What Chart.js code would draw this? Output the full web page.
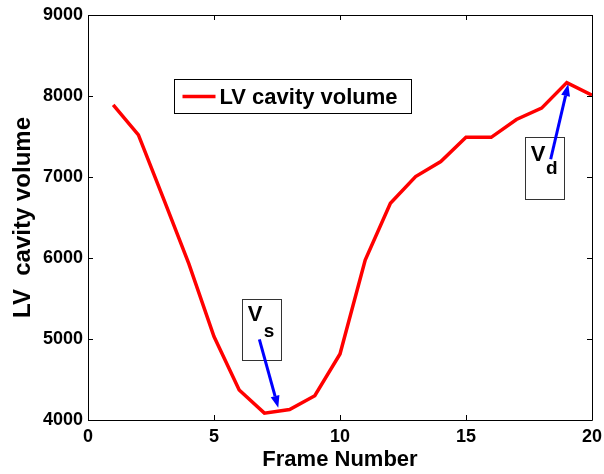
<!DOCTYPE html>
<html>
<head>
<meta charset="utf-8">
<script src="https://cdn.jsdelivr.net/npm/chart.js@4/dist/chart.umd.min.js"></script>
<style>
  html, body { margin: 0; padding: 0; background: #fff; }
  #wrap { width: 604px; height: 474px; }
</style>
</head>
<body>
<div id="wrap"><canvas id="c" width="604" height="474"></canvas></div>
<script>
// Frame index and left-ventricle cavity volume per frame
const frames = [1, 2, 3, 4, 5, 6, 7, 8, 9, 10, 11, 12, 13, 14, 15, 16, 17, 18, 19, 20];
const volume = [7890, 7520, 6730, 5930, 5030, 4370, 4085, 4130, 4300, 4815,
                5975, 6675, 7005, 7190, 7490, 7490, 7710, 7850, 8165, 8010];
const xTicks = [0, 5, 10, 15, 20];
const yTicks = [4000, 5000, 6000, 7000, 8000, 9000];
const seriesName = 'LV cavity volume';

// Callouts (data coordinates): labelled box plus arrow pointing at the curve
const callouts = [
  { main: 'V', sub: 's', box: [6.10, 7.66, 5494, 4741], mainAt: [6.63, 5296], subAt: [7.18, 5086],
    from: [6.80, 4996], to: [7.55, 4152] },
  { main: 'V', sub: 'd', box: [17.34, 18.90, 7498, 6728], mainAt: [17.86, 7272], subAt: [18.40, 7099],
    from: [18.36, 7219], to: [19.06, 8148] }
];
const legendBox = [3.42, 12.82, 8206, 7786];

const FONT = '"Liberation Sans", Arial, Helvetica, sans-serif';

const framePlugin = {
  id: 'framePlugin',
  afterDatasetsDraw(chart) {
    const ctx = chart.ctx;
    const xs = chart.scales.x, ys = chart.scales.y;
    const a = chart.chartArea;
    const X = v => xs.getPixelForValue(v);
    const Y = v => ys.getPixelForValue(v);
    ctx.save();

    // axes box with inward ticks on all sides
    ctx.strokeStyle = '#000';
    ctx.lineWidth = 1;
    ctx.beginPath();
    ctx.rect(Math.round(a.left) + 0.5, Math.round(a.top) + 0.5,
             Math.round(a.right - a.left), Math.round(a.bottom - a.top));
    const tl = 5;
    xTicks.forEach(t => {
      const px = Math.round(X(t)) + 0.5;
      ctx.moveTo(px, a.bottom); ctx.lineTo(px, a.bottom - tl);
      ctx.moveTo(px, a.top); ctx.lineTo(px, a.top + tl);
    });
    yTicks.forEach(t => {
      const py = Math.round(Y(t)) + 0.5;
      ctx.moveTo(a.left, py); ctx.lineTo(a.left + tl, py);
      ctx.moveTo(a.right, py); ctx.lineTo(a.right - tl, py);
    });
    ctx.stroke();

    // legend
    const lx0 = Math.round(X(legendBox[0])) + 0.5, lx1 = Math.round(X(legendBox[1])) + 0.5;
    const ly0 = Math.round(Y(legendBox[2])) + 0.5, ly1 = Math.round(Y(legendBox[3])) + 0.5;
    ctx.fillStyle = '#fff';
    ctx.fillRect(lx0, ly0, lx1 - lx0, ly1 - ly0);
    ctx.strokeStyle = '#000';
    ctx.lineWidth = 1;
    ctx.strokeRect(lx0, ly0, lx1 - lx0, ly1 - ly0);
    const lmid = (ly0 + ly1) / 2;
    ctx.strokeStyle = '#ff0000';
    ctx.lineWidth = 3.5;
    ctx.beginPath();
    ctx.moveTo(lx0 + 8, lmid); ctx.lineTo(lx0 + 41, lmid);
    ctx.stroke();
    ctx.fillStyle = '#000';
    ctx.font = 'bold 22px ' + FONT;
    ctx.textAlign = 'left';
    ctx.textBaseline = 'middle';
    ctx.fillText(seriesName, lx0 + 45, lmid + 1);

    // callouts
    callouts.forEach(c => {
      const bx0 = Math.round(X(c.box[0])) + 0.5, bx1 = Math.round(X(c.box[1])) + 0.5;
      const by0 = Math.round(Y(c.box[2])) + 0.5, by1 = Math.round(Y(c.box[3])) + 0.5;
      ctx.strokeStyle = '#333';
      ctx.lineWidth = 1;
      ctx.strokeRect(bx0, by0, bx1 - bx0, by1 - by0);
      ctx.fillStyle = '#000';
      ctx.textAlign = 'center';
      ctx.textBaseline = 'middle';
      ctx.font = 'bold 22px ' + FONT;
      ctx.fillText(c.main, X(c.mainAt[0]), Y(c.mainAt[1]));
      ctx.font = 'bold 19px ' + FONT;
      ctx.fillText(c.sub, X(c.subAt[0]), Y(c.subAt[1]));

      // arrow
      const x1 = X(c.from[0]), y1 = Y(c.from[1]);
      const x2 = X(c.to[0]), y2 = Y(c.to[1]);
      const ang = Math.atan2(y2 - y1, x2 - x1);
      const hl = 12, hw = 4.5;
      const bxp = x2 - hl * Math.cos(ang), byp = y2 - hl * Math.sin(ang);
      ctx.strokeStyle = '#0000ff';
      ctx.fillStyle = '#0000ff';
      ctx.lineWidth = 3;
      ctx.beginPath();
      ctx.moveTo(x1, y1); ctx.lineTo(bxp, byp);
      ctx.stroke();
      ctx.beginPath();
      ctx.moveTo(x2, y2);
      ctx.lineTo(bxp + hw * Math.sin(ang), byp - hw * Math.cos(ang));
      ctx.lineTo(bxp - hw * Math.sin(ang), byp + hw * Math.cos(ang));
      ctx.closePath();
      ctx.fill();
    });
    ctx.restore();
  }
};

new Chart(document.getElementById('c'), {
  type: 'line',
  data: {
    datasets: [{
      label: seriesName,
      data: frames.map((f, i) => ({ x: f, y: volume[i] })),
      borderColor: '#ff0000',
      borderWidth: 3.5,
      pointRadius: 0,
      tension: 0,
      fill: false
    }]
  },
  options: {
    responsive: false,
    animation: false,
    devicePixelRatio: 1,
    layout: { padding: { left: 0, top: 15, right: 12, bottom: 0 } },
    plugins: { legend: { display: false }, tooltip: { enabled: false } },
    scales: {
      x: {
        type: 'linear', min: 0, max: 20,
        afterBuildTicks: s => { s.ticks = xTicks.map(v => ({ value: v })); },
        afterFit: s => { s.height = 54; s.paddingLeft = 0; s.paddingRight = 0; },
        grid: { display: false, drawTicks: false },
        border: { display: false },
        ticks: { padding: 6, color: '#000', callback: v => String(v),
                 font: { family: FONT, size: 18, weight: 'bold' } },
        title: { display: true, text: 'Frame Number', color: '#000',
                 padding: { top: 0, bottom: 1 },
                 font: { family: FONT, size: 22, weight: 'bold' } }
      },
      y: {
        type: 'linear', min: 4000, max: 9000,
        afterBuildTicks: s => { s.ticks = yTicks.map(v => ({ value: v })); },
        afterFit: s => { s.width = 88; s.paddingTop = 0; s.paddingBottom = 0; },
        grid: { display: false, drawTicks: false },
        border: { display: false },
        ticks: { padding: 5, color: '#000', callback: v => String(v),
                 font: { family: FONT, size: 18, weight: 'bold' } },
        title: { display: true, text: 'LV  cavity volume', color: '#000',
                 padding: { top: 9, bottom: 0 },
                 font: { family: FONT, size: 24, weight: 'bold' } }
      }
    }
  },
  plugins: [framePlugin]
});
</script>
</body>
</html>
